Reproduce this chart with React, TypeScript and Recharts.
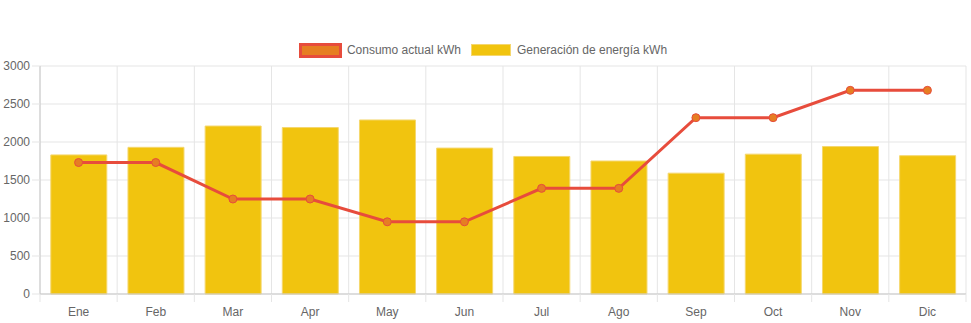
import React from "react";
import {
  ComposedChart,
  Bar,
  Line,
  XAxis,
  YAxis,
  CartesianGrid,
  Legend,
} from "recharts";

const months = ["Ene", "Feb", "Mar", "Apr", "May", "Jun", "Jul", "Ago", "Sep", "Oct", "Nov", "Dic"];
const consumo = [1730, 1730, 1250, 1250, 950, 950, 1390, 1390, 2320, 2320, 2680, 2680];
const generacion = [1830, 1930, 2210, 2190, 2290, 1920, 1810, 1750, 1590, 1840, 1940, 1820];
const yTicks = [0, 500, 1000, 1500, 2000, 2500, 3000];

const FONT = "'Liberation Sans', Arial, Helvetica, sans-serif";
const GRID = "#e5e5e5";
const AXIS = "#c8c8c8";

const data = months.map((m, i) => ({
  month: m,
  consumo: consumo[i],
  generacion: generacion[i],
}));

const W = 971;
const H = 323;
const margin = { top: 36, right: 5, bottom: 0, left: 0 };
const plotLeft = 40;
const plotWidth = W - plotLeft - margin.right;
const band = plotWidth / months.length;

const MonthTick = (props: any) => {
  const { x, y, payload, index } = props;
  return (
    <g>
      <line x1={x - band / 2} x2={x - band / 2} y1={y} y2={y + 8} stroke={GRID} />
      {index === months.length - 1 && (
        <line x1={x + band / 2} x2={x + band / 2} y1={y} y2={y + 8} stroke={GRID} />
      )}
      <text x={x} y={y + 22} textAnchor="middle" fill="#666" fontSize={12} fontFamily={FONT}>
        {payload.value}
      </text>
    </g>
  );
};

const LegendBox = () => (
  <div
    style={{
      display: "flex",
      justifyContent: "center",
      alignItems: "center",
      height: 30,
      boxSizing: "border-box",
      fontFamily: FONT,
      fontSize: 12,
      color: "#666",
    }}
  >
    <div style={{ display: "flex", alignItems: "center", marginTop: -2 }}>
      <span
        style={{
          display: "inline-block",
          width: 37,
          height: 9,
          background: "#e67e22",
          border: "3px solid #e74c3c",
          marginRight: 5,
        }}
      />
      <span style={{ marginRight: 10 }}>Consumo actual kWh</span>
      <span
        style={{
          display: "inline-block",
          width: 38,
          height: 10,
          background: "#f1c40f",
          border: "1px solid #f5d76e",
          marginRight: 6,
        }}
      />
      <span>Generación de energía kWh</span>
    </div>
  </div>
);

export default function App() {
  return (
    <div style={{ position: "absolute", left: 0, top: 0, width: W, height: H, background: "#fff" }}>
      <ComposedChart width={W} height={H} data={data} margin={margin} barCategoryGap="14%">
        <CartesianGrid
          stroke={GRID}
          verticalCoordinatesGenerator={({ offset }: any) =>
            Array.from({ length: months.length + 1 }, (_, i) => offset.left + (i * offset.width) / months.length)
          }
        />
        <Legend verticalAlign="top" align="center" content={<LegendBox />} />
        <XAxis
          dataKey="month"
          stroke={AXIS}
          tickLine={false}
          tickSize={0}
          tickMargin={0}
          tick={<MonthTick />}
          interval={0}
          height={29}
        />
        <YAxis
          domain={[0, 3000]}
          ticks={yTicks}
          width={plotLeft}
          stroke={AXIS}
          tickLine={{ stroke: GRID }}
          tickSize={8}
          tickMargin={2}
          tick={{ fill: "#666", fontSize: 12, fontFamily: FONT }}
        />
        <Bar
          dataKey="generacion"
          name="Generación de energía kWh"
          fill="#f1c40f"
          stroke="#f5d76e"
          strokeWidth={1}
          isAnimationActive={false}
        />
        <Line
          dataKey="consumo"
          name="Consumo actual kWh"
          type="linear"
          stroke="#e74c3c"
          strokeWidth={3}
          dot={{ r: 4, fill: "#e67e22", stroke: "#e74c3c", strokeWidth: 1 }}
          isAnimationActive={false}
        />
      </ComposedChart>
    </div>
  );
}
